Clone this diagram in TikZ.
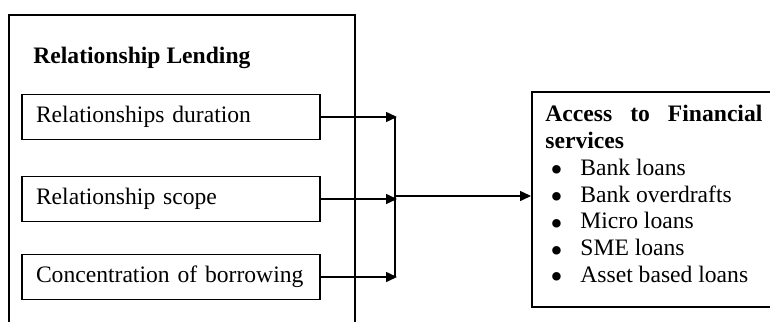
\documentclass[tikz,border=0pt]{standalone}
\usepackage{fontspec}
\usepackage{graphicx}
\setmainfont{Liberation Serif}
\usetikzlibrary{arrows.meta}

\newcommand{\itembul}{\hspace*{2.5pt}\makebox[15pt][l]{\smash{\raisebox{-3.2pt}{\scalebox{1.5}{\textbullet}}}}}

\begin{document}
\begin{tikzpicture}[x=0.5pt,y=-0.5pt,
	every node/.style={font=\fontsize{11.8}{13.4}\selectfont},
	factor/.style={draw,line width=0.75pt,minimum height=22.5pt,text width=135pt,inner xsep=7pt,align=left},
	link/.style={line width=0.75pt,-{Triangle[length=5.5pt,width=5pt]}}]
	\clip (0,0) rectangle (770,321);
	% outer frame, cut off at the bottom
	\draw[line width=0.75pt] (9,15) rectangle (355,360);
	\node[anchor=base west,inner sep=0pt,font=\fontsize{11.8}{13.4}\selectfont\bfseries] (lendtitle) at (33,63) {Relationship Lending};
	\node[factor] (duration) at (171,117) {Relationships duration};
	\node[factor] (scope) at (171,199) {Relationship scope};
	\node[factor] (borrowing) at (171,277) {Concentration of borrowing};
	\coordinate (hub) at (395,196);
	\draw[link] (duration.east) -- ([xshift=1pt]duration.east -| hub);
	\draw[link] (scope.east) -- ([xshift=1pt]scope.east -| hub);
	\draw[link] (borrowing.east) -- ([xshift=1pt]borrowing.east -| hub);
	\draw[line width=0.75pt] (duration.east -| hub) -- (borrowing.east -| hub);
	% right box, cut off at the right
	\node[draw,line width=0.75pt,anchor=north west,minimum width=130pt,minimum height=107.5pt] (access) at (531,91) {};
	\draw[link] (hub) -- (hub -| access.west);
	\node[anchor=north west,inner sep=0pt,text width=108.5pt,align=justify] (accesstext) at (545,105) {%
		\tolerance=10000\textbf{Access to Financial services}\\
		\itembul Bank loans\\
		\itembul Bank overdrafts\\
		\itembul Micro loans\\
		\itembul SME loans\\
		\itembul Asset based loans};
\end{tikzpicture}
\end{document}
